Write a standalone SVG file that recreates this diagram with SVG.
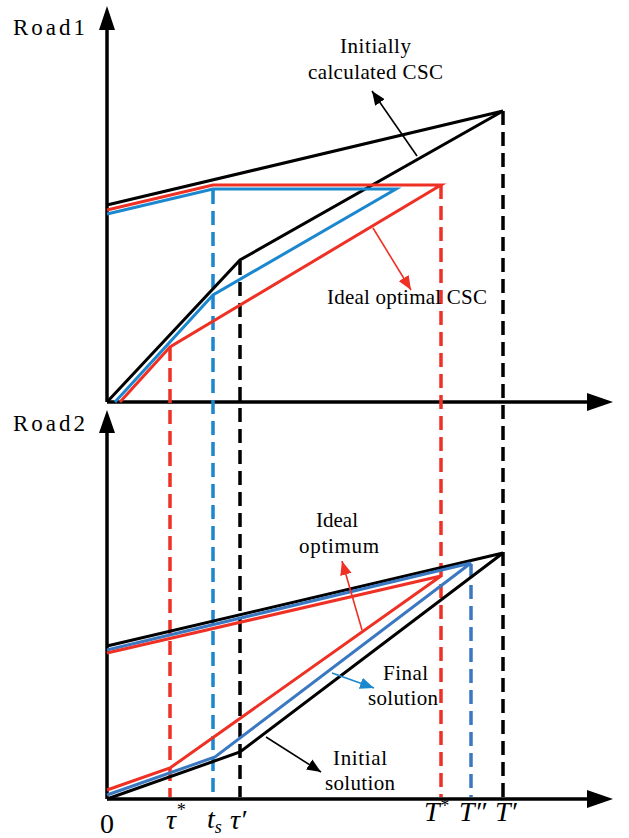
<svg xmlns="http://www.w3.org/2000/svg" width="629" height="838" viewBox="0 0 629 838">
<defs>
<style>
.ax{stroke:#000;stroke-width:3.5;fill:none}
.ln{stroke-width:3;fill:none;stroke-linejoin:miter}
.k{stroke:#000}
.r{stroke:#ee3124}
.b{stroke:#1b87cf}
.b2{stroke:#3a78c2}
.dash{stroke-width:3.5;stroke-dasharray:14 7;fill:none}
.ann{stroke-width:1.6;fill:none}
.lbl{font-family:'Liberation Serif',serif;font-size:21px;fill:#000}
.road{font-family:'Liberation Serif',serif;font-size:23px;fill:#000}
.tick{font-family:'Liberation Serif',serif;font-style:italic;font-size:28px;fill:#000}
</style>
<marker id="mk" viewBox="0 0 12 10" refX="12" refY="5" markerWidth="14" markerHeight="12" markerUnits="userSpaceOnUse" orient="auto"><path d="M0,0 L12,5 L0,10 Z" fill="#000"/></marker>
<marker id="mr" viewBox="0 0 12 10" refX="12" refY="5" markerWidth="14" markerHeight="12" markerUnits="userSpaceOnUse" orient="auto"><path d="M0,0 L12,5 L0,10 Z" fill="#ee3124"/></marker>
<marker id="mb" viewBox="0 0 12 10" refX="12" refY="5" markerWidth="14" markerHeight="12" markerUnits="userSpaceOnUse" orient="auto"><path d="M0,0 L12,5 L0,10 Z" fill="#1b87cf"/></marker>
</defs>
<rect width="629" height="838" fill="#fff"/>

<g id="axes-top" font-family="Liberation Serif, serif">
<line class="ax" x1="107" y1="402" x2="107" y2="28"/>
<polygon points="107,6 99,30 115,30" fill="#000"/>
<line class="ax" x1="107" y1="402" x2="590" y2="402"/>
<polygon points="613,402 587,393 587,411" fill="#000"/>
<text class="road" x="13" y="35" textLength="72">Road1</text>
</g>

<g id="axes-bottom" font-family="Liberation Serif, serif">
<line class="ax" x1="107" y1="799" x2="107" y2="430"/>
<polygon points="107,410 99,433 115,433" fill="#000"/>
<line class="ax" x1="107" y1="799" x2="590" y2="799"/>
<polygon points="613,799 587,790 587,808" fill="#000"/>
<text class="road" x="13" y="431" textLength="72">Road2</text>
</g>

<g id="connectors">
<line class="dash r" x1="170" y1="347" x2="170" y2="797"/>
<line class="dash b" x1="213" y1="190" x2="213" y2="797"/>
<line class="dash k" x1="240" y1="261" x2="240" y2="797"/>
<line class="dash r" x1="441" y1="185" x2="441" y2="797"/>
<line class="dash b2" x1="471" y1="564" x2="471" y2="797"/>
<line class="dash k" x1="503" y1="111" x2="503" y2="797"/>

<polyline class="ln k" points="107,205 503,111 240,260 107,402"/>
<polyline class="ln r" points="107,210 213,185 441,185 170,347 120,402"/>
<polyline class="ln b" points="107,214 213,189 396,189 213,295 115,402"/>

<polyline class="ln k" points="107,646 503,553 240,752 107,799"/>
<polyline class="ln b2" points="107,650 471,563 215,757 107,795"/>
<polyline class="ln r" points="107,653 441,576 170,768 107,790"/>

<line class="ann k" x1="417" y1="156" x2="372" y2="91" marker-end="url(#mk)"/>
<line class="ann r" x1="373" y1="228" x2="411" y2="290" marker-end="url(#mr)"/>
<line class="ann r" x1="362" y1="630" x2="342" y2="561" marker-end="url(#mr)"/>
<line class="ann b" x1="332" y1="673" x2="374" y2="688" marker-end="url(#mb)"/>
<line class="ann k" x1="266" y1="737" x2="321" y2="772" marker-end="url(#mk)"/>
</g>

<g id="label-initial-csc" font-family="Liberation Serif, serif">
<text class="lbl" x="340" y="53" textLength="71">Initially</text>
<text class="lbl" x="308" y="79" textLength="135">calculated CSC</text>
</g>
<g id="label-ideal-csc" font-family="Liberation Serif, serif">
<text class="lbl" x="327" y="304" textLength="160">Ideal optimal CSC</text>
</g>
<g id="label-ideal-optimum" font-family="Liberation Serif, serif">
<text class="lbl" x="316" y="527" textLength="42">Ideal</text>
<text class="lbl" x="299" y="553" textLength="80">optimum</text>
</g>
<g id="label-final" font-family="Liberation Serif, serif">
<text class="lbl" x="383" y="680" textLength="45">Final</text>
<text class="lbl" x="368" y="705" textLength="70">solution</text>
</g>
<g id="label-initial" font-family="Liberation Serif, serif">
<text class="lbl" x="333" y="765" textLength="54">Initial</text>
<text class="lbl" x="325" y="790" textLength="70">solution</text>
</g>

<g id="ticks" font-family="Liberation Serif, serif">
<text x="107" y="833" text-anchor="middle" font-size="28">0</text>
<text class="tick" x="166" y="829">τ<tspan font-size="18" dy="-13">*</tspan></text>
<text class="tick" x="207" y="828">t<tspan font-size="18" dy="5">s</tspan></text>
<text class="tick" x="230" y="829">τ′</text>
<text class="tick" x="424" y="821">T<tspan font-size="18" dy="-9">*</tspan></text>
<text class="tick" x="459" y="821">T″</text>
<text class="tick" x="495" y="821">T′</text>
</g>
</svg>
